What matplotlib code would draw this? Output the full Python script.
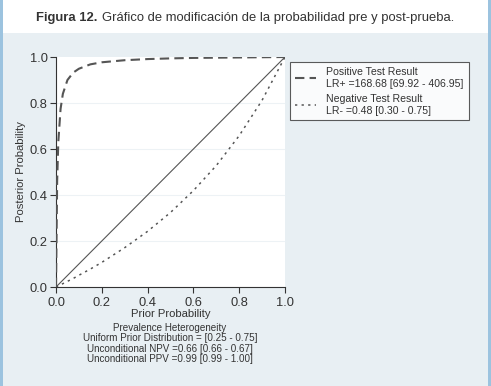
import numpy as np
import matplotlib
matplotlib.use("Agg")
import matplotlib.pyplot as plt
from matplotlib.patches import Rectangle

plt.rcParams['font.family'] = ['Liberation Sans', 'DejaVu Sans']

# values
prior = [0.0, 0.005, 0.01, 0.02, 0.03, 0.05, 0.075, 0.1, 0.15, 0.2, 0.3, 0.4, 0.5, 0.6, 0.7, 0.8, 0.9, 1.0]
post_positive = [0.0, 0.46, 0.63, 0.775, 0.84, 0.90, 0.932, 0.949, 0.968, 0.977, 0.986, 0.991, 0.994, 0.996, 0.997, 0.998, 0.999, 1.0]
post_negative = [0.0, 0.0024, 0.0048, 0.0097, 0.0146, 0.0246, 0.037, 0.051, 0.078, 0.107, 0.171, 0.242, 0.324, 0.419, 0.528, 0.658, 0.812, 1.0]
diagonal = [0.0, 1.0]

pos_label = "Positive Test Result\nLR+ =168.68 [69.92 - 406.95]"
neg_label = "Negative Test Result\nLR- =0.48 [0.30 - 0.75]"
title_bold = "Figura 12."
title_rest = "Gráfico de modificación de la probabilidad pre y post-prueba."
footer_lines = ["Prevalence Heterogeneity",
                "Uniform Prior Distribution = [0.25 - 0.75]",
                "Unconditional NPV =0.66 [0.66 - 0.67]",
                "Unconditional PPV =0.99 [0.99 - 1.00]"]
ticks = [0.0, 0.2, 0.4, 0.6, 0.8, 1.0]

W, H = 491, 386
fig = plt.figure(figsize=(W / 100, H / 100), dpi=100)
fig.patch.set_facecolor('white')

# page background: white header, light blue body, blue side borders
fig.patches.append(Rectangle((0, 0), 1, 1 - 33 / H, transform=fig.transFigure,
                             facecolor='#e8eff3', edgecolor='none', zorder=-10))
fig.patches.append(Rectangle((0, 0), 2.5 / W, 1, transform=fig.transFigure,
                             facecolor='#9cc3df', edgecolor='none', zorder=-5))
fig.patches.append(Rectangle((1 - 3 / W, 0), 3 / W, 1, transform=fig.transFigure,
                             facecolor='#9cc3df', edgecolor='none', zorder=-5))

# title
t1 = fig.text(36 / W, 1 - 18 / H, title_bold, fontsize=9.4, fontweight='bold',
              va='center', ha='left', color='#333333')
fig.canvas.draw()
bb = t1.get_window_extent()
fig.text(bb.x1 / W + 5 / W, 1 - 18 / H, title_rest, fontsize=9.4,
         va='center', ha='left', color='#333333')

ax = fig.add_axes([56 / W, 1 - 287 / H, 229 / W, 230 / H])
ax.set_facecolor('white')
for y in ticks[1:-1]:
    ax.axhline(y, color='#edf2f5', lw=0.8, zorder=0)

ax.plot(diagonal, diagonal, color='#555555', lw=0.8, zorder=2)
ax.plot(prior, post_positive, color='#555555', lw=1.5, dashes=(4.5, 2.5), label=pos_label, zorder=3)
ax.plot(prior, post_negative, color='#555555', lw=1.1, dashes=(1.5, 2.8), label=neg_label, zorder=3)

ax.set_xlim(0, 1)
ax.set_ylim(0, 1)
ax.set_xticks(ticks)
ax.set_yticks(ticks)
ax.set_xticklabels([f"{t:.1f}" for t in ticks])
ax.set_yticklabels([f"{t:.1f}" for t in ticks])
ax.tick_params(labelsize=9.3, colors='#333333', length=4, width=0.8, pad=2)
ax.tick_params(axis='x', pad=3.5)
for side in ['top', 'right']:
    ax.spines[side].set_visible(False)
for side in ['left', 'bottom']:
    ax.spines[side].set_color('#333333')
    ax.spines[side].set_linewidth(0.8)
ax.set_xlabel("Prior Probability", fontsize=8.1, color='#333333', labelpad=0)
ax.set_ylabel("Posterior Probability", fontsize=8.1, color='#333333', labelpad=3)

leg = ax.legend(loc='upper left', bbox_to_anchor=(290 / W, 1 - 62 / H),
                bbox_transform=fig.transFigure, fontsize=7.6, frameon=True,
                fancybox=False, edgecolor='#333333', handlelength=2.0,
                handletextpad=1.0, borderpad=0.45, labelspacing=0.45,
                borderaxespad=0)
leg.get_frame().set_linewidth(0.8)
for txt in leg.get_texts():
    txt.set_linespacing(1.25)
    txt.set_color('#333333')

for i, line in enumerate(footer_lines):
    fig.text(170 / W, 1 - (328 + i * 10.3) / H, line, fontsize=7.1,
             ha='center', va='center', color='#333333')

fig.savefig("out.png", dpi=100)
